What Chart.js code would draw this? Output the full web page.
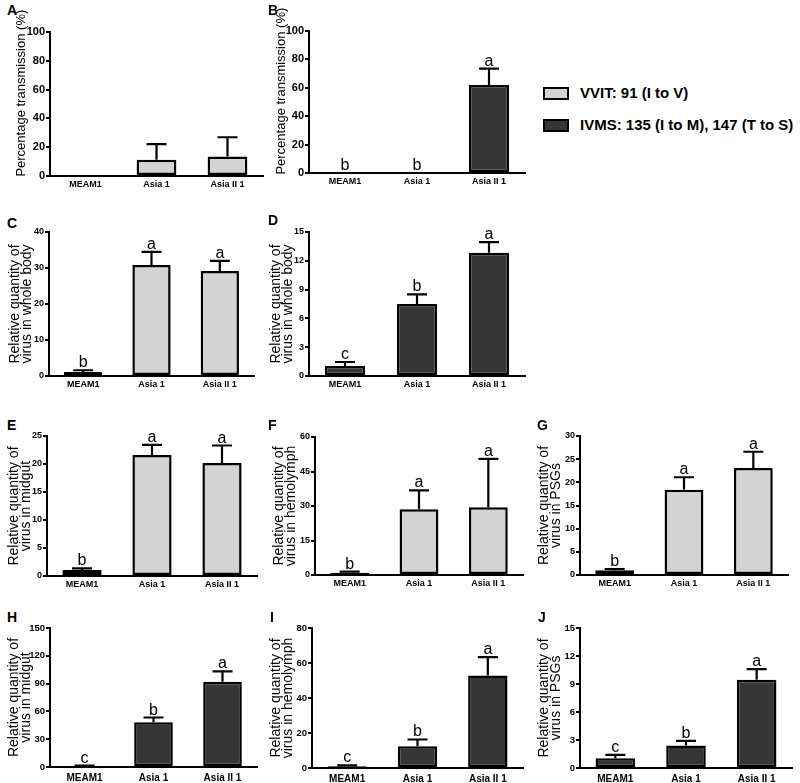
<!DOCTYPE html>
<html lang="en">
<head>
<meta charset="UTF-8">
<title>Virus transmission and relative quantity by cryptic species</title>
<script src="https://cdn.jsdelivr.net/npm/chart.js"></script>
<style>
  body { margin: 0; background: #fff; font-family: "Liberation Sans", Arial, sans-serif; }
  #fig { position: relative; width: 800px; height: 783px; overflow: hidden; }
  #fig canvas { position: absolute; }
  .tag { position: absolute; font-weight: bold; font-size: 14px; line-height: 1; color: #000; }
  .swatch { position: absolute; width: 26px; height: 13px; box-sizing: border-box; border: 2px solid #000; }
  .legtext { position: absolute; font-weight: bold; font-size: 15px; line-height: 16px; color: #000; white-space: nowrap; }
</style>
</head>
<body>
<div id="fig">
  <div class="swatch" style="left:543px; top:87px; background:#d3d3d3;"></div>
  <div class="legtext" style="left:580px; top:85px;">VVIT: 91 (I to V)</div>
  <div class="swatch" style="left:543px; top:119px; background:#363636;"></div>
  <div class="legtext" style="left:580px; top:117px;">IVMS: 135 (I to M), 147 (T to S)</div>
</div>

<script>
    // categories (whitefly cryptic species)
    const categories = ['MEAM1', 'Asia 1', 'Asia II 1'];

    // A / B: percentage transmission
    const valuesA = [0, 11.2, 13.6];
    const errorsA = [0, 10.9, 13.3];
    const lettersA = ['', '', ''];
    const valuesB = [0, 0, 62];
    const errorsB = [0, 0, 11.5];
    const lettersB = ['b', 'b', 'a'];

    // C / D: whole body
    const valuesC = [1.1, 30.8, 29.2];
    const errorsC = [0.5, 3.7, 2.8];
    const lettersC = ['b', 'a', 'a'];
    const valuesD = [1.04, 7.5, 12.85];
    const errorsD = [0.42, 1.0, 1.1];
    const lettersD = ['c', 'b', 'a'];

    // E / H: midgut
    const valuesE = [1.05, 21.6, 20.2];
    const errorsE = [0.3, 1.8, 3.1];
    const lettersE = ['b', 'a', 'a'];
    const valuesH = [1.0, 48.2, 92];
    const errorsH = [0.6, 5.2, 11.2];
    const lettersH = ['c', 'b', 'a'];

    // F / I: hemolymph
    const valuesF = [1.0, 28.6, 29.5];
    const errorsF = [0.45, 8.2, 21];
    const lettersF = ['b', 'a', 'a'];
    const valuesI = [1.0, 12.4, 52.8];
    const errorsI = [0.5, 3.9, 10.6];
    const lettersI = ['c', 'b', 'a'];

    // G / J: PSGs
    const valuesG = [1.0, 18.4, 23.1];
    const errorsG = [0.3, 2.7, 3.5];
    const lettersG = ['b', 'a', 'a'];
    const valuesJ = [1.05, 2.4, 9.45];
    const errorsJ = [0.35, 0.5, 1.15];
    const lettersJ = ['c', 'b', 'a'];

    // y axis ranges, panels A..J
    const yMax  = [100, 100, 40, 15, 25, 60, 30, 150, 80, 15];
    const yStep = [20, 20, 10, 3, 5, 15, 5, 30, 20, 3];

    // leading spaces push the single-line title up a bit, as in the original
    const titleTrans = '\u00a0'.repeat(6) + 'Percentage transmission (%)';
    const titleBody = ['Relative quantity of', 'virus in whole body'];
    const titleMidgut = ['Relative quantity of', 'virus in midgut'];
    const titleHemo = ['Relative quantity of', 'virus in hemolymph'];
    const titlePsg = ['Relative quantity of', 'virus in PSGs'];

    const LIGHT = '#d3d3d3';
    const DARK = '#363636';

    Chart.defaults.font.family = '"Liberation Sans", Arial, sans-serif';
    Chart.defaults.color = '#000';

    // error bars (upper only) + significance letters
    const errorBars = {
        id: 'errorBars',
        afterDatasetsDraw(chart, args, opts) {
            const ctx = chart.ctx;
            const y = chart.scales.y;
            const meta = chart.getDatasetMeta(0);
            ctx.save();
            ctx.strokeStyle = '#000';
            ctx.lineWidth = 2.2;
            ctx.fillStyle = '#000';
            ctx.font = '16px "Liberation Sans", Arial, sans-serif';
            ctx.textAlign = 'center';
            ctx.textBaseline = 'alphabetic';
            meta.data.forEach((bar, i) => {
                const top = y.getPixelForValue(opts.values[i] + opts.errors[i]);
                if (opts.errors[i] > 0) {
                    ctx.beginPath();
                    ctx.moveTo(bar.x, bar.y);
                    ctx.lineTo(bar.x, top);
                    ctx.moveTo(bar.x - 10, top);
                    ctx.lineTo(bar.x + 10, top);
                    ctx.stroke();
                }
                if (opts.letters[i]) {
                    ctx.fillText(opts.letters[i], bar.x, top - 3);
                }
            });
            ctx.restore();
        }
    };

    // [tag, values, errors, letters, colour, title, axisLeft, axisRight, axisTop, axisBottom, titleX, tagX, tagY, yTickSize, xTickSize]
    const panels = [
        ['A', valuesA, errorsA, lettersA, LIGHT, titleTrans, 50, 263, 32, 176, 22, 7, 3, 11, 9],
        ['B', valuesB, errorsB, lettersB, DARK, titleTrans, 309, 525, 31, 173, 282, 268, 3, 11, 9],
        ['C', valuesC, errorsC, lettersC, LIGHT, titleBody, 49, 254, 232, 376, 16, 7, 216, 9, 9],
        ['D', valuesD, errorsD, lettersD, DARK, titleBody, 309, 525, 232, 376, 277, 268, 213, 9, 9],
        ['E', valuesE, errorsE, lettersE, LIGHT, titleMidgut, 47, 257, 436, 576, 15, 7, 418, 9, 9],
        ['F', valuesF, errorsF, lettersF, LIGHT, titleHemo, 315, 523, 437, 575, 280, 268, 418, 9, 9],
        ['G', valuesG, errorsG, lettersG, LIGHT, titlePsg, 580, 788, 436, 575, 545, 537, 418, 9, 9],
        ['H', valuesH, errorsH, lettersH, DARK, titleMidgut, 50, 257, 628, 767, 15, 7, 610, 9.5, 10],
        ['I', valuesI, errorsI, lettersI, DARK, titleHemo, 312, 523, 628, 768, 277, 270, 610, 9.5, 10],
        ['J', valuesJ, errorsJ, lettersJ, DARK, titlePsg, 580, 792, 628, 768, 545, 538, 610, 9.5, 10]
    ];

    const fig = document.getElementById('fig');
    const YW = 50, PR = 6, XH = 22;
    const titleLH = 0.88;

    panels.forEach((p, k) => {
        const [tag, values, errors, letters, colour, title, aL, aR, aT, aB, tX, gX, gY, ySize, xSize] = p;
        const titleSize = k < 2 ? 13 : 14;

        const label = document.createElement('div');
        label.className = 'tag';
        label.textContent = tag;
        label.style.left = gX + 'px';
        label.style.top = gY + 'px';
        fig.appendChild(label);

        // first row: canvas starts at the page top so the long title is not clipped
        const PT = k < 2 ? aT : 16;
        const left = aL - YW, top = aT - PT;
        const canvas = document.createElement('canvas');
        canvas.width = aR - left + PR;
        canvas.height = aB - top + XH;
        canvas.style.left = left + 'px';
        canvas.style.top = top + 'px';
        fig.appendChild(canvas);

        new Chart(canvas.getContext('2d'), {
            type: 'bar',
            data: {
                labels: categories,
                datasets: [{
                    data: values,
                    backgroundColor: colour,
                    borderColor: '#000',
                    borderWidth: 2.5,
                    borderSkipped: false,
                    barPercentage: 0.56,
                    categoryPercentage: 1
                }]
            },
            options: {
                responsive: false,
                animation: false,
                layout: { padding: { top: PT, right: PR, left: 0, bottom: 0 } },
                plugins: {
                    legend: { display: false },
                    tooltip: { enabled: false },
                    errorBars: { values: values, errors: errors, letters: letters }
                },
                scales: {
                    x: {
                        afterFit: s => { s.height = XH; },
                        grid: { display: false, drawTicks: false },
                        border: { display: true, color: '#000', width: 2 },
                        ticks: { font: { size: xSize, weight: 'bold' }, padding: k >= 7 ? 5 : 3, maxRotation: 0, autoSkip: false }
                    },
                    y: {
                        min: 0,
                        max: yMax[k],
                        afterFit: s => { s.width = YW; },
                        border: { display: true, color: '#000', width: 2 },
                        grid: { drawOnChartArea: false, drawTicks: true, tickLength: 4, color: '#000', lineWidth: 2, tickWidth: 2, tickColor: '#000' },
                        ticks: { stepSize: yStep[k], font: { size: ySize, weight: 'bold' }, padding: 1 },
                        title: {
                            display: true,
                            text: title,
                            font: { size: titleSize, lineHeight: titleLH },
                            padding: { top: tX - left - titleSize * titleLH / 2 - 1, bottom: 0 }
                        }
                    }
                }
            },
            plugins: [errorBars]
        });
    });
</script>
</body>
</html>
